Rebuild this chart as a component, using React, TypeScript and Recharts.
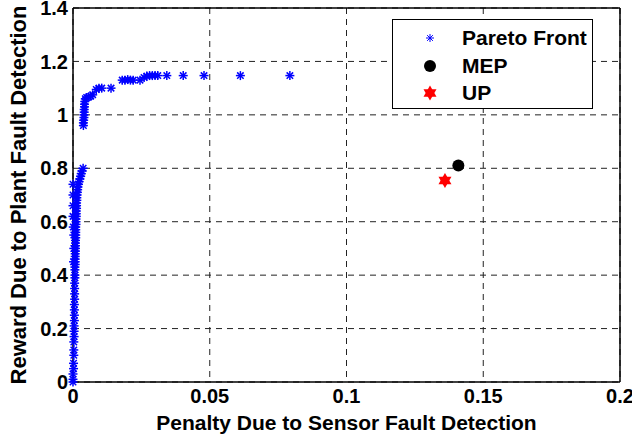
import { ScatterChart, Scatter, XAxis, YAxis, CartesianGrid, ReferenceLine, Label } from 'recharts';

// Pareto front: penalty (x) and reward (y)
const paretoX = [
  0, 0, 0, 0.0002, 0.0002, 0.0003, 0.0003, 0.0003, 0.0004, 0.0004,
  0.0004, 0.0005, 0.0005, 0.0005, 0.0005, 0.0006, 0.0006, 0.0006, 0.0006, 0.0007,
  0.0007, 0.0007, 0.0007, 0.0008, 0.0008, 0.0008, 0.0008, 0.0008, 0.0009, 0.0009,
  0.0009, 0.0009, 0.0009, 0.001, 0.001, 0.001, 0.001, 0.001, 0.0011, 0.0011,
  0.0011, 0.0012, 0.0012, 0.0012, 0.0013, 0.0013, 0.0013, 0.0014, 0.0014, 0.0015,
  0.0016, 0.0017, 0.0018, 0.002, 0.0022, 0.0025, 0.0028, 0.003, 0.0033, 0.0037,
  0, 0, 0, 0, 0.0003, 0.0003, 0.0002, 0.0001,
  0.0038, 0.0038, 0.0039, 0.004, 0.004, 0.0041, 0.0041, 0.0042, 0.0042, 0.0043,
  0.0045, 0.005, 0.0058, 0.0065, 0.0072,
  0.0085, 0.0095, 0.0105, 0.0139,
  0.018, 0.019, 0.02, 0.021, 0.022, 0.0245,
  0.026, 0.027, 0.028, 0.029, 0.03, 0.031,
  0.0343, 0.0403, 0.0479, 0.0612, 0.0793,
];
const paretoY = [
  0, 0.01, 0.03, 0.05, 0.07, 0.1, 0.12, 0.15, 0.17, 0.19,
  0.21, 0.23, 0.25, 0.27, 0.29, 0.31, 0.33, 0.35, 0.37, 0.39,
  0.4, 0.42, 0.43, 0.44, 0.45, 0.46, 0.47, 0.48, 0.49, 0.5,
  0.51, 0.52, 0.53, 0.54, 0.55, 0.56, 0.57, 0.58, 0.59, 0.6,
  0.61, 0.62, 0.63, 0.64, 0.65, 0.66, 0.67, 0.68, 0.69, 0.7,
  0.71, 0.72, 0.73, 0.74, 0.75, 0.76, 0.77, 0.78, 0.79, 0.8,
  0.62, 0.66, 0.7, 0.74, 0.5, 0.55, 0.45, 0.58,
  0.96, 0.97, 0.98, 0.99, 1.0, 1.01, 1.02, 1.03, 1.04, 1.05,
  1.06, 1.065, 1.068, 1.07, 1.075,
  1.095, 1.1, 1.1, 1.1,
  1.13, 1.13, 1.132, 1.13, 1.13, 1.13,
  1.14, 1.145, 1.147, 1.147, 1.147, 1.147,
  1.147, 1.147, 1.147, 1.147, 1.147,
];
const mepPoint = { x: 0.1409, y: 0.81 };
const upPoint = { x: 0.136, y: 0.754 };

const xTicks = [0, 0.05, 0.1, 0.15, 0.2];
const yTicks = [0, 0.2, 0.4, 0.6, 0.8, 1, 1.2, 1.4];

const pareto = paretoX.map((x, i) => ({ x, y: paretoY[i] }));

const FONT = '"Liberation Sans", Arial, sans-serif';

const Asterisk = ({ cx, cy, arm = 4.5, sw = 1.5 }: any) => {
  const d = arm * 0.72;
  return (
    <g stroke="#0000ff" strokeWidth={sw}>
      <line x1={cx - arm} y1={cy} x2={cx + arm} y2={cy} />
      <line x1={cx} y1={cy - arm} x2={cx} y2={cy + arm} />
      <line x1={cx - d} y1={cy - d} x2={cx + d} y2={cy + d} />
      <line x1={cx - d} y1={cy + d} x2={cx + d} y2={cy - d} />
    </g>
  );
};

const Dot = ({ cx, cy }: any) => <circle cx={cx} cy={cy} r={6} fill="#000" />;

const Hexagram = ({ cx, cy, rad = 7.5 }: any) => {
  const tri = (rot: number) =>
    [0, 1, 2]
      .map((k) => {
        const a = ((rot + k * 120) * Math.PI) / 180;
        return `${cx + rad * Math.cos(a)},${cy + rad * Math.sin(a)}`;
      })
      .join(' ');
  return (
    <g fill="#ff0000">
      <polygon points={tri(-90)} />
      <polygon points={tri(90)} />
    </g>
  );
};

const LegendBox = () => {
  const rows = [
    { name: 'Pareto Front', icon: <Asterisk cx={10} cy={10} arm={4} sw={1} /> },
    { name: 'MEP', icon: <Dot cx={10} cy={10} /> },
    { name: 'UP', icon: <Hexagram cx={10} cy={10} /> },
  ];
  return (
    <div
      style={{
        position: 'absolute',
        left: 392,
        top: 19,
        width: 199,
        height: 84,
        border: '1px solid #000',
        background: '#fff',
        paddingTop: 4,
      }}
    >
      {rows.map((r) => (
        <div key={r.name} style={{ display: 'flex', alignItems: 'center', height: 27.7 }}>
          <svg width={20} height={20} style={{ marginLeft: 27, marginRight: 22 }}>
            {r.icon}
          </svg>
          <span style={{ fontFamily: FONT, fontWeight: 'bold', fontSize: 21, color: '#000' }}>{r.name}</span>
        </div>
      ))}
    </div>
  );
};

const tickStyle = { fill: '#000', fontSize: 20, fontWeight: 'bold', fontFamily: FONT };

export default function App() {
  return (
    <div style={{ position: 'absolute', left: 0, top: 0, width: 632, height: 438, background: '#fff' }}>
      <ScatterChart width={632} height={438} margin={{ top: 8, right: 12, left: 0, bottom: 0 }}>
        <CartesianGrid stroke="#222" strokeDasharray="6 5" />
        <XAxis
          type="number"
          dataKey="x"
          domain={[0, 0.2]}
          ticks={xTicks}
          height={56}
          tick={tickStyle}
          tickSize={0}
          tickMargin={7}
          axisLine={{ stroke: '#000', strokeWidth: 1.5 }}
          interval={0}
        >
          <Label
            content={({ viewBox }: any) => (
              <text
                x={viewBox.x + viewBox.width / 2}
                y={viewBox.y + 48}
                textAnchor="middle"
                fill="#000"
                fontFamily={FONT}
                fontWeight="bold"
                fontSize={21}
              >
                Penalty Due to Sensor Fault Detection
              </text>
            )}
          />
        </XAxis>
        <YAxis
          type="number"
          dataKey="y"
          domain={[0, 1.4]}
          ticks={yTicks}
          width={73}
          tick={tickStyle}
          tickSize={0}
          tickMargin={5}
          axisLine={{ stroke: '#000', strokeWidth: 1.5 }}
          interval={0}
        >
          <Label
            content={({ viewBox }: any) => {
              const x = viewBox.x + 18;
              const y = viewBox.y + viewBox.height / 2;
              return (
                <text
                  x={x}
                  y={y}
                  transform={`rotate(-90 ${x} ${y})`}
                  textAnchor="middle"
                  dominantBaseline="central"
                  fill="#000"
                  fontFamily={FONT}
                  fontWeight="bold"
                  fontSize={22}
                >
                  Reward Due to Plant Fault Detection
                </text>
              );
            }}
          />
        </YAxis>
        <ReferenceLine x={0.2} stroke="#000" strokeWidth={1.5} />
        <ReferenceLine y={1.4} stroke="#000" strokeWidth={1.5} />
        <Scatter
          name="Pareto Front"
          data={pareto}
          shape={(p: any) => <Asterisk cx={p.cx} cy={p.cy} />}
          isAnimationActive={false}
        />
        <Scatter name="MEP" data={[mepPoint]} shape={(p: any) => <Dot cx={p.cx} cy={p.cy} />} isAnimationActive={false} />
        <Scatter name="UP" data={[upPoint]} shape={(p: any) => <Hexagram cx={p.cx} cy={p.cy} />} isAnimationActive={false} />
      </ScatterChart>
      <LegendBox />
    </div>
  );
}
